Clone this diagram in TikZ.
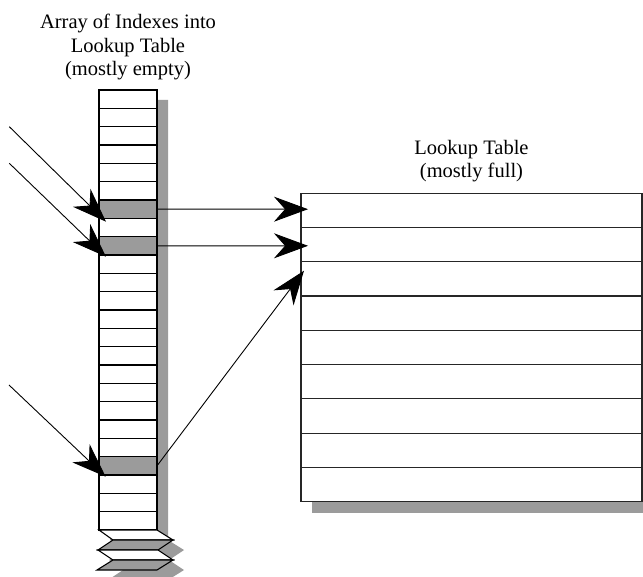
\documentclass[tikz,border=0pt]{standalone}
\usepackage{fontspec}
\setmainfont{Liberation Serif}
\usetikzlibrary{arrows.meta}
\definecolor{shadowgray}{RGB}{155,155,155}
\begin{document}
\begin{tikzpicture}[x=1pt,y=-1pt,
  cell/.style={draw=black, line width=1.1pt, minimum width=58pt, minimum height=18.333pt, inner sep=0pt, outer sep=0pt},
  tabrow/.style={draw=black!85, line width=1.1pt, fill=white, minimum width=341pt, minimum height=34.25pt, inner sep=0pt, outer sep=0pt},
  band/.style={draw=black, line width=1.1pt, line join=miter},
  ptr/.style={line width=0.9pt, -{Stealth[length=34pt,width=25pt,inset=11pt]}},
  title/.style={font=\fontsize{20.5}{23.5}\selectfont, align=center, inner sep=0pt}
]
\useasboundingbox (0,0) rectangle (643,577);
\clip (0,0) rectangle (643,577);
% shadows
\fill[shadowgray] (110,100) -- (168,100) -- (168,540) -- (184,550) -- (169,560) -- (184,570) -- (168,580) -- (108,580) -- (123,570) -- (109,560) -- (124,550) -- (110,540) -- cycle;
\fill[shadowgray] (312,204.3) rectangle (653,512.5);
% array of indexes
\foreach \i in {0,...,23}{
  \def\fc{white}
  \ifnum\i=6 \def\fc{shadowgray}\fi
  \ifnum\i=8 \def\fc{shadowgray}\fi
  \ifnum\i=20 \def\fc{shadowgray}\fi
  \node[cell, fill=\fc] (c\i) at (128,{90+18.333*(\i+0.5)}) {};
}
% broken end of the array
\filldraw[band, fill=white] (99,530) -- (157,530) -- (173,540) -- (113,540) -- cycle;
\filldraw[band, fill=shadowgray] (113,540) -- (173,540) -- (158,550) -- (98,550) -- cycle;
\filldraw[band, fill=white] (98,550) -- (158,550) -- (173,560) -- (113,560) -- cycle;
\filldraw[band, fill=shadowgray] (113,560) -- (173,560) -- (157,570) -- (97,570) -- cycle;
% lookup table
\foreach \j in {0,...,8}{
  \node[tabrow] (r\j) at (471.5,{193.3+34.25*(\j+0.5)}) {};
}
% titles
\node[title, anchor=base] (lt) at (128,76) {Array of Indexes into\\Lookup Table\\(mostly empty)};
\node[title, anchor=base] (rt) at (471.5,178) {Lookup Table\\(mostly full)};
% arrow end points
\coordinate (a1) at (9.3,126.7);
\coordinate (a1t) at (106,221.7);
\coordinate (a2) at (9.3,163.3);
\coordinate (a2t) at (106,256.7);
\coordinate (a3) at (9,385);
\coordinate (a3t) at (105.7,476.7);
\coordinate (h1) at (308,209.2);
\coordinate (h2) at (308,245.8);
\coordinate (h3) at (304,270.7);
% connectors
\draw[ptr] (a1) -- (a1t);
\draw[ptr] (a2) -- (a2t);
\draw[ptr] (a3) -- (a3t);
\draw[ptr] (c6.east) -- (h1);
\draw[ptr] (c8.east) -- (h2);
\draw[ptr] (c20.east) -- (h3);
\end{tikzpicture}
\end{document}
